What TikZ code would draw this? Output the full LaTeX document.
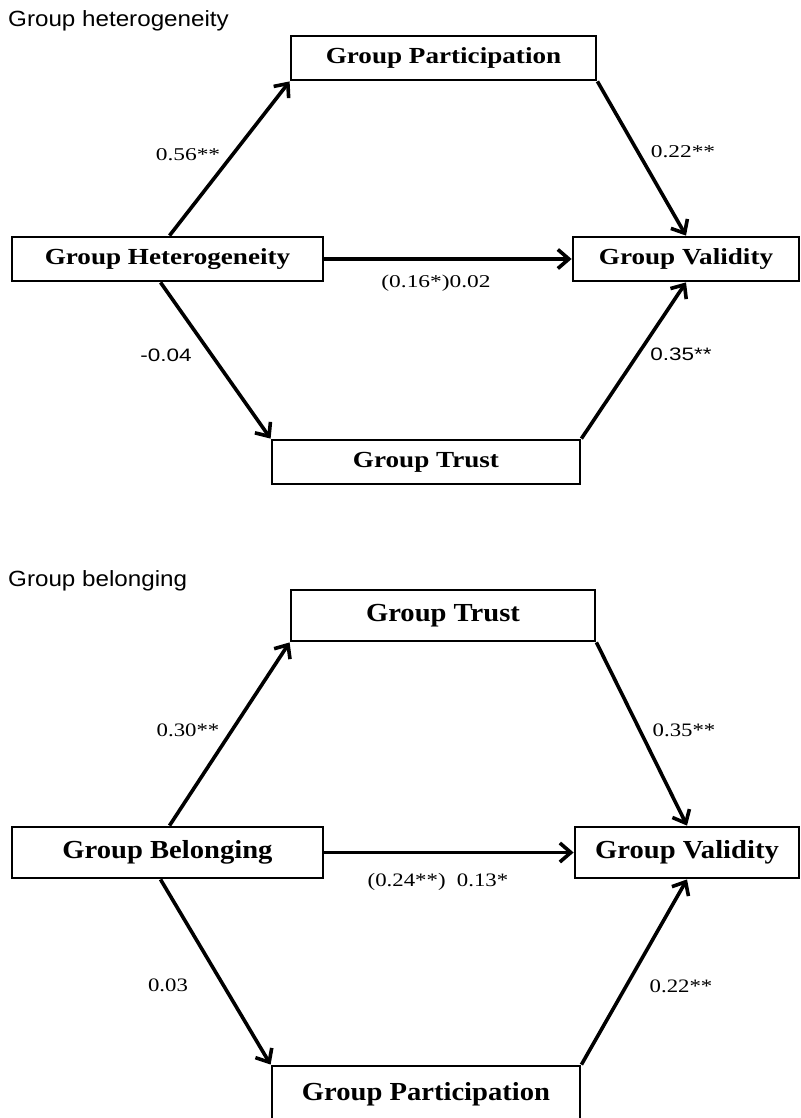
\documentclass[tikz,border=0pt]{standalone}
\usepackage{fontspec}
\setmainfont{Liberation Serif}
\newfontfamily\boxfont[FakeStretch=1.18]{Liberation Serif}
\newfontfamily\bigboxfont[FakeStretch=1.1]{Liberation Serif}
\newfontfamily\coeffont[FakeStretch=1.3]{Liberation Serif}
\newfontfamily\coefsans[FakeStretch=1.25]{Liberation Sans}
\newfontfamily\lowcoeffont[FakeStretch=1.2]{Liberation Serif}
\newfontfamily\titlefont[FakeStretch=1.1]{Liberation Sans}
\usetikzlibrary{arrows.meta}
\usetikzlibrary{positioning}
\tikzset{construct/.style = {draw, line width = 2.8pt, inner sep = 0, minimum height = 44pt,
                             font = \boxfont\bfseries\fontsize{23}{26}\selectfont}}
\tikzset{bigconstruct/.style = {construct, minimum height = 51pt,
                                font = \bigboxfont\bfseries\fontsize{26}{30}\selectfont}}
\tikzset{link/.style = {line width = 3.6pt, -{Straight Barb[length = 11pt, width = 19pt]}}}
\tikzset{coef/.style = {inner sep = 0, font = \coeffont\fontsize{18}{20}\selectfont}}
\tikzset{sanscoef/.style = {inner sep = 0, font = \coefsans\fontsize{18}{20}\selectfont}}
\tikzset{lowcoef/.style = {inner sep = 0, font = \lowcoeffont\fontsize{19}{21}\selectfont}}
\tikzset{paneltitle/.style = {inner sep = 0, anchor = base west,
                              font = \titlefont\fontsize{22}{24}\selectfont}}

\begin{document}
\begin{tikzpicture}[x = 1pt, y = -1pt]
    \useasboundingbox [fill = white] (0, 0) rectangle (800, 1118);

    % group heterogeneity
    \node [paneltitle] (title1) at (8, 27) {Group heterogeneity};
    \node [construct, minimum width = 305pt] (gp1) at (443.5, 58) {Group Participation};
    \node [construct, minimum width = 311pt] (gh) at (167.5, 259) {Group Heterogeneity};
    \node [construct, minimum width = 226pt] (gv1) at (686, 259) {Group Validity};
    \node [construct, minimum width = 308pt] (gt1) at (426, 462) {Group Trust};

    \draw [link] ([xshift = 2pt]gh.north) -- (gp1.south west);
    \draw [link] (gp1.south east) -- (gv1.north);
    \draw [link] (gh.east) -- (gv1.west);
    \draw [link] ([xshift = -7pt]gh.south) -- (gt1.north west);
    \draw [link] (gt1.north east) -- (gv1.south);

    \node [coef] (c1) at (188, 155) {0.56**};
    \node [coef] (c2) at (683, 152) {0.22**};
    \node [coef] (c3) at (436, 283) {(0.16*)0.02};
    \node [sanscoef] (c4) at (166, 355) {-0.04};
    \node [sanscoef] (c5) at (681, 354) {0.35**};

    % group belonging
    \node [paneltitle] (title2) at (8, 586) {Group belonging};
    \node [bigconstruct, minimum width = 304pt] (gt2) at (443, 615.5) {Group Trust};
    \node [bigconstruct, minimum width = 311pt] (gb) at (167.5, 852.5) {Group Belonging};
    \node [bigconstruct, minimum width = 224pt] (gv2) at (687, 852.5) {Group Validity};
    \node [bigconstruct, minimum width = 308pt, minimum height = 56pt] (gp2) at (426, 1094) {Group Participation};

    \draw [link] ([xshift = 2pt]gb.north) -- (gt2.south west);
    \draw [link] (gt2.south east) -- (gv2.north);
    \draw [link] (gb.east) -- (gv2.west);
    \draw [link] ([xshift = -7pt]gb.south) -- (gp2.north west);
    \draw [link] (gp2.north east) -- (gv2.south);

    \node [lowcoef] (c6) at (188, 730) {0.30**};
    \node [lowcoef] (c7) at (684, 730) {0.35**};
    \node [lowcoef] (c8) at (438, 882) {(0.24**)\ \ 0.13*};
    \node [lowcoef] (c9) at (168, 985) {0.03};
    \node [lowcoef] (c10) at (681, 986) {0.22**};
\end{tikzpicture}
\end{document}
